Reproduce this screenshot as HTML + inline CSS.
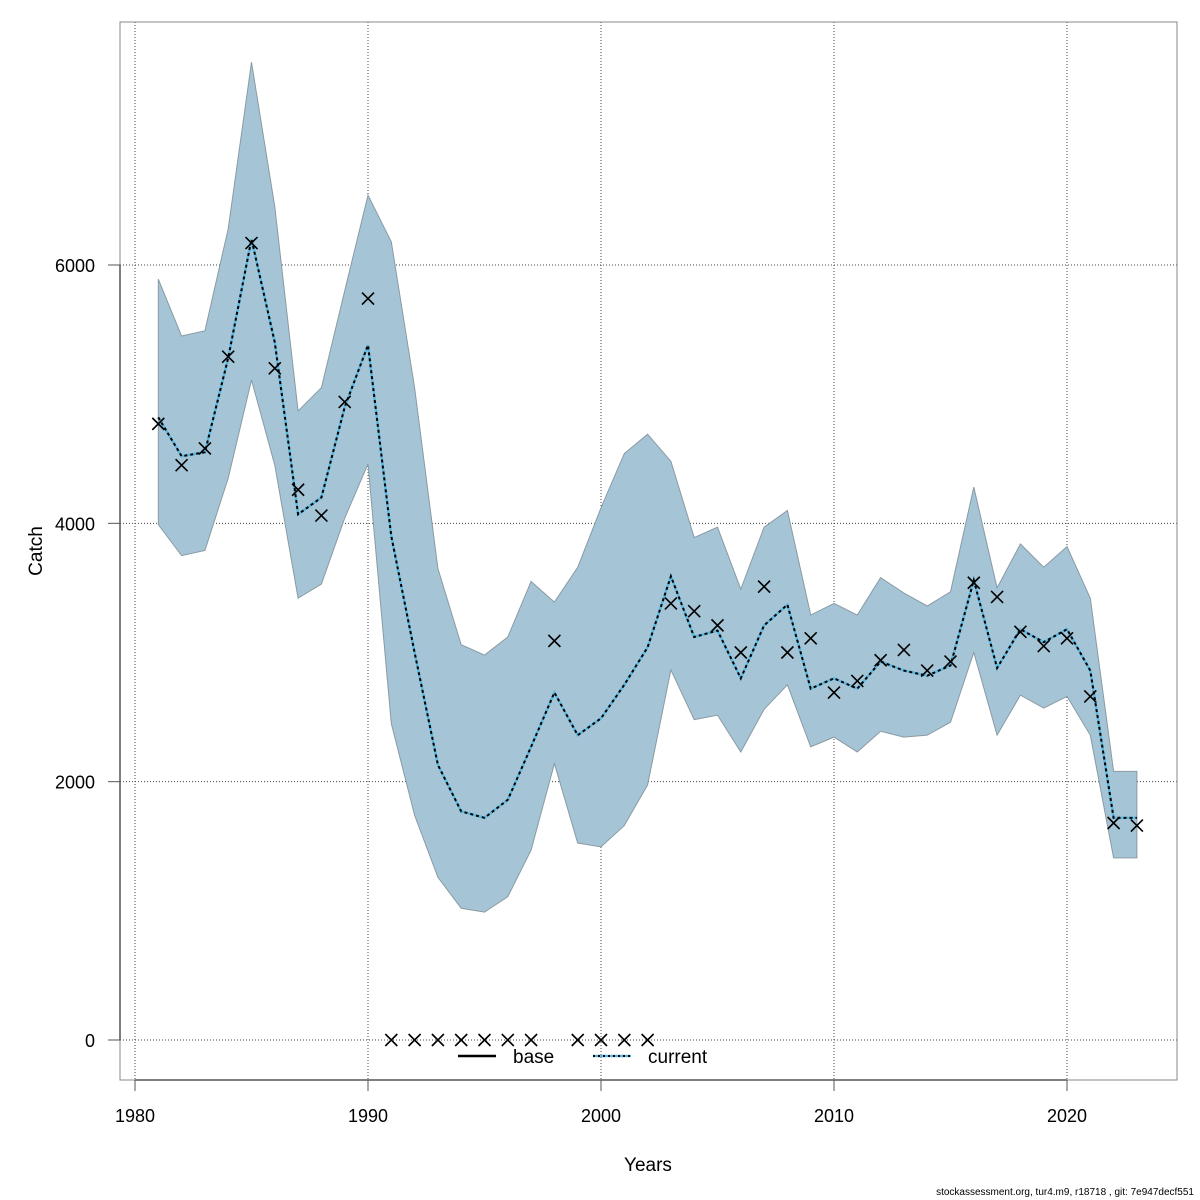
<!DOCTYPE html>
<html><head><meta charset="utf-8"><style>
body{margin:0;background:#fff}
svg{display:block;font-family:"Liberation Sans",sans-serif}
</style></head><body>
<svg id="chart" width="1200" height="1200" viewBox="0 0 1200 1200" xmlns="http://www.w3.org/2000/svg">
<rect x="0" y="0" width="1200" height="1200" fill="#fff"/>
<g id="grid"></g>
<g id="band"></g>
<g id="lines"></g>
<g id="obs"></g>
<rect x="120" y="22" width="1057" height="1058" fill="none" stroke="#888" stroke-width="1"/>
<g id="axes"></g>
<text x="42" y="551" font-size="19" text-anchor="middle" transform="rotate(-90 42 551)">Catch</text>
<text x="648" y="1171" font-size="19" text-anchor="middle">Years</text>
<g>
<line x1="458" y1="1056" x2="496" y2="1056" stroke="#000" stroke-width="2.5"/>
<text x="513" y="1063" font-size="19">base</text>
<line x1="593" y1="1056" x2="631" y2="1056" stroke="#5bb8e0" stroke-width="2.5"/>
<line x1="593" y1="1056" x2="631" y2="1056" stroke="#000" stroke-width="2" stroke-dasharray="2,3"/>
<text x="648" y="1063" font-size="19">current</text>
</g>
<text x="1194" y="1195" font-size="10" text-anchor="end">stockassessment.org, tur4.m9, r18718 , git: 7e947decf551</text>
</svg>
<script>
const years=[1981,1982,1983,1984,1985,1986,1987,1988,1989,1990,1991,1992,1993,1994,1995,1996,1997,1998,1999,2000,2001,2002,2003,2004,2005,2006,2007,2008,2009,2010,2011,2012,2013,2014,2015,2016,2017,2018,2019,2020,2021,2022,2023];
const upper=[5890,5450,5490,6280,7570,6450,4870,5050,5800,6540,6180,5050,3650,3060,2980,3120,3550,3390,3660,4120,4540,4690,4480,3890,3970,3490,3970,4100,3290,3380,3290,3580,3460,3360,3470,4280,3500,3840,3660,3820,3420,2080,2080];
const lower=[3990,3750,3790,4350,5110,4450,3420,3530,4040,4460,2450,1740,1260,1020,990,1110,1470,2140,1525,1495,1660,1975,2865,2480,2515,2230,2560,2750,2270,2345,2230,2390,2345,2360,2460,3000,2360,2670,2570,2660,2360,1410,1410];
const fit=[4820,4520,4550,5280,6200,5400,4070,4200,4900,5380,3900,3000,2130,1770,1720,1860,2270,2690,2360,2490,2750,3040,3590,3120,3170,2800,3210,3370,2720,2800,2720,2930,2860,2820,2900,3560,2880,3180,3080,3180,2860,1720,1720];
const observed=[4770,4450,4580,5290,6170,5200,4260,4060,4940,5740,0,0,0,0,0,0,0,3090,0,0,0,0,3380,3320,3210,3000,3510,3000,3110,2690,2780,2940,3020,2860,2930,3540,3430,3160,3050,3110,2660,1680,1660];
const xTicks=[1980,1990,2000,2010,2020];
const yTicks=[0,2000,4000,6000];
const NS="http://www.w3.org/2000/svg";
const X=y=>135+(y-1980)*23.3;
const Y=v=>1040-v*0.129167;
function mk(tag,attrs,parent){const e=document.createElementNS(NS,tag);for(const k in attrs)e.setAttribute(k,attrs[k]);document.getElementById(parent).appendChild(e);return e;}
const xa=mk('line',{x1:X(1980),x2:X(2020),y1:1080,y2:1080,stroke:'#555','stroke-width':1.5},'axes');


const ya=mk('line',{x1:120,x2:120,y1:Y(0),y2:Y(6000),stroke:'#555','stroke-width':1.5},'axes');


xTicks.forEach(t=>{
 const g=mk('line',{x1:X(t),x2:X(t),y1:22,y2:1080,stroke:'#444','stroke-width':1,'stroke-dasharray':'1,2'},'grid');
 
 
 const tk=mk('line',{x1:X(t),x2:X(t),y1:1080,y2:1091,stroke:'#555'},'axes');
 
 
 const tl=mk('text',{x:X(t),y:1122,'font-size':18,'text-anchor':'middle'},'axes');tl.textContent=t;
 
 
});
yTicks.forEach(t=>{
 const g=mk('line',{x1:120,x2:1177,y1:Y(t),y2:Y(t),stroke:'#444','stroke-width':1,'stroke-dasharray':'1,2'},'grid');
 
 
 const tk=mk('line',{x1:108,x2:120,y1:Y(t),y2:Y(t),stroke:'#555'},'axes');
 
 
 const tl=mk('text',{x:95,y:Y(t)+7,'font-size':18,'text-anchor':'end'},'axes');tl.textContent=t;
 
 
});
let pts=years.map((y,i)=>X(y)+','+Y(upper[i]));
for(let i=years.length-1;i>=0;i--)pts.push(X(years[i])+','+Y(lower[i]));
const band=mk('polygon',{points:pts.join(' '),fill:'#a5c5d6',stroke:'#8a9aa4','stroke-width':1},'band');


const lp=years.map((y,i)=>X(y)+','+Y(fit[i])).join(' ');
const l1=mk('polyline',{points:lp,fill:'none',stroke:'#5bb8e0','stroke-width':2.5},'lines');


const l2=mk('polyline',{points:lp,fill:'none',stroke:'#000','stroke-width':2,'stroke-dasharray':'3,3'},'lines');


years.forEach((y,i)=>{
 const cx=X(y),cy=Y(observed[i]),s=6;
 const p=mk('path',{d:`M${cx-s},${cy-s}L${cx+s},${cy+s}M${cx-s},${cy+s}L${cx+s},${cy-s}`,stroke:'#000','stroke-width':1.6},'obs');
 
 
});
</script>
</body></html>
